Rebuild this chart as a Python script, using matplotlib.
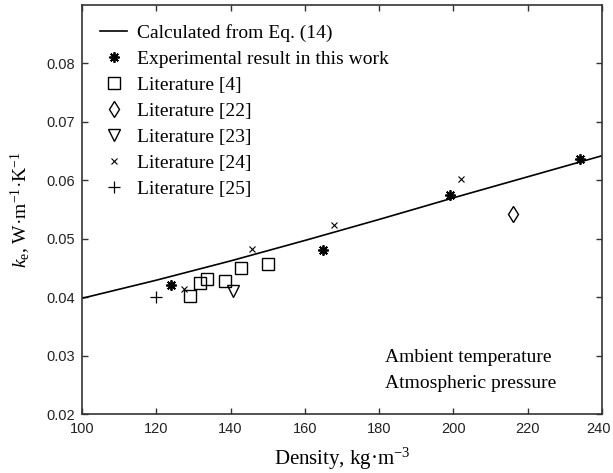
import matplotlib
matplotlib.use("Agg")
import matplotlib.pyplot as plt
import matplotlib.transforms as mtransforms

# Effective thermal conductivity vs. density
calc_density = [100, 120, 140, 160, 180, 200, 220, 240]
calc_k = [0.0398, 0.0429, 0.0462, 0.0497, 0.0533, 0.0570, 0.0606, 0.0642]

exp_density = [124, 165, 199, 234]
exp_k = [0.0420, 0.0480, 0.0575, 0.0637]

lit4_density = [129.1, 131.9, 133.7, 138.6, 142.9, 150.1]
lit4_k = [0.0402, 0.0425, 0.0431, 0.0427, 0.0450, 0.0457]

lit22_density = [216]
lit22_k = [0.0542]

lit23_density = [140.7]
lit23_k = [0.0411]

lit24_density = [127.5, 145.8, 167.8, 202.0]
lit24_k = [0.0414, 0.0482, 0.0524, 0.0603]

lit25_density = [120]
lit25_k = [0.0401]

xticks = [100, 120, 140, 160, 180, 200, 220, 240]
yticks = [0.02, 0.03, 0.04, 0.05, 0.06, 0.07, 0.08]

plt.rcParams["mathtext.fontset"] = "custom"
plt.rcParams["mathtext.rm"] = "Liberation Serif"
plt.rcParams["mathtext.it"] = "Liberation Serif:italic"
serif = "Liberation Serif"

fig = plt.figure(figsize=(6.13, 4.73), dpi=100)
ax = fig.add_axes([82 / 613, 1 - 414 / 473, 520 / 613, 409 / 473])

ax.plot(calc_density, calc_k, color="black", lw=1.2, label="Calculated from Eq. (14)")
ax.plot(exp_density, exp_k, ls="none", marker=(8, 2, 0), ms=7.5, mew=1.3,
        color="black", label="Experimental result in this work")
ax.plot(lit4_density, lit4_k, ls="none", marker="s", ms=8.5, mfc="none",
        mec="black", mew=1.0, label="Literature [4]")
ax.plot(lit22_density, lit22_k, ls="none", marker="d", ms=8, mfc="none",
        mec="black", mew=1.0, label="Literature [22]")
ax.plot(lit23_density, lit23_k, ls="none", marker="v", ms=8.5, mfc="none",
        mec="black", mew=1.0, label="Literature [23]")
ax.plot(lit24_density, lit24_k, ls="none", marker="x", ms=5, mec="black",
        mew=0.8, label="Literature [24]")
ax.plot(lit25_density, lit25_k, ls="none", marker="+", ms=9, mec="black",
        mew=0.9, label="Literature [25]")

ax.set_xlim(100, 240)
ax.set_ylim(0.02, 0.09)
ax.set_xticks(xticks)
ax.set_yticks(yticks)
ax.set_xticklabels([str(v) for v in xticks])
ax.set_yticklabels([f"{v:.2f}" for v in yticks])
ax.tick_params(direction="in", length=4, width=1.0, top=True, right=True,
               labelsize=10.5, labelcolor="#222222", color="#333333")
ax.tick_params(axis="x", pad=6)
ax.tick_params(axis="y", pad=5)
for lab in ax.get_xticklabels() + ax.get_yticklabels():
    lab.set_fontfamily("Liberation Sans")

# keep the last x tick label inside the figure edge
last = ax.get_xticklabels()[-1]
last.set_transform(last.get_transform() +
                   mtransforms.ScaledTranslation(-3 / 100, 0, fig.dpi_scale_trans))

for sp in ax.spines.values():
    sp.set_color("#333333")
    sp.set_linewidth(1.2)

ax.set_xlabel("Density, kg·m$^{-3}$", fontsize=15, family=serif, labelpad=7)
ax.set_ylabel(r"$k_{\mathrm{e}}$, W·m$^{-1}$·K$^{-1}$", fontsize=14,
              family=serif, labelpad=10)

ax.text(181.5, 0.0297, "Ambient temperature", fontsize=14, family=serif,
        va="center", ha="left")
ax.text(181.5, 0.0252, "Atmospheric pressure", fontsize=14, family=serif,
        va="center", ha="left")

leg = ax.legend(loc="upper left", bbox_to_anchor=(0.02, 0.972), frameon=False,
                prop={"family": serif, "size": 14}, handlelength=1.4,
                handletextpad=0.5, labelspacing=0.43, borderaxespad=0.0)

fig.savefig("out.png", dpi=100)
